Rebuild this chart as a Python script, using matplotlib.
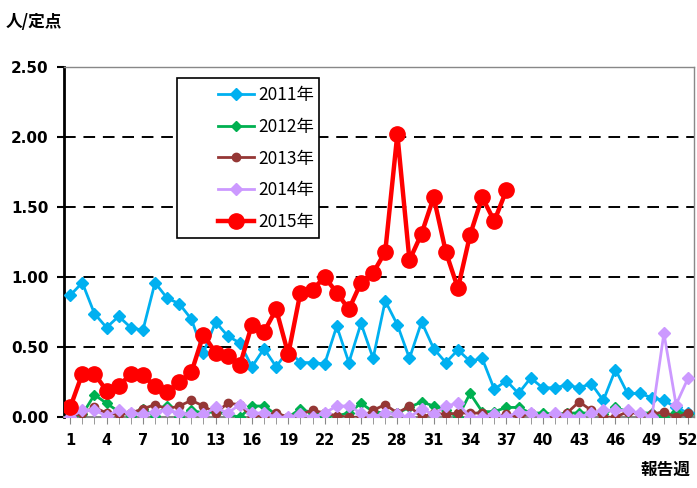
import matplotlib
matplotlib.use("Agg")
import matplotlib.pyplot as plt
from matplotlib.ticker import FixedLocator
from matplotlib.patches import Rectangle

plt.rcParams['font.family'] = ['Noto Sans CJK JP', 'DejaVu Sans']

weeks = list(range(1, 53))

y2011 = [0.87, 0.96, 0.74, 0.64, 0.72, 0.64, 0.62, 0.96, 0.85, 0.81,
         0.70, 0.46, 0.68, 0.58, 0.53, 0.36, 0.49, 0.36, 0.48, 0.39,
         0.39, 0.38, 0.65, 0.39, 0.67, 0.42, 0.83, 0.66, 0.42, 0.68,
         0.49, 0.39, 0.48, 0.40, 0.42, 0.20, 0.26, 0.17, 0.28, 0.21,
         0.21, 0.23, 0.21, 0.24, 0.12, 0.34, 0.17, 0.17, 0.14, 0.12,
         0.07, 0.03]
y2012 = [0.00, 0.02, 0.16, 0.10, 0.04, 0.01, 0.06, 0.01, 0.08, 0.00,
         0.05, 0.03, 0.04, 0.02, 0.00, 0.08, 0.08, 0.02, 0.00, 0.06,
         0.03, 0.00, 0.01, 0.03, 0.10, 0.04, 0.03, 0.03, 0.07, 0.11,
         0.08, 0.05, 0.00, 0.17, 0.04, 0.04, 0.07, 0.07, 0.03, 0.03,
         0.02, 0.03, 0.03, 0.03, 0.02, 0.07, 0.04, 0.03, 0.03, 0.00,
         0.04, 0.02]
y2013 = [0.00, 0.03, 0.07, 0.03, 0.02, 0.03, 0.06, 0.09, 0.06, 0.08,
         0.12, 0.08, 0.03, 0.10, 0.09, 0.00, 0.01, 0.03, 0.00, 0.02,
         0.05, 0.03, 0.01, 0.00, 0.00, 0.05, 0.09, 0.03, 0.08, 0.00,
         0.03, 0.02, 0.03, 0.03, 0.03, 0.00, 0.02, 0.00, 0.03, 0.00,
         0.00, 0.03, 0.11, 0.05, 0.00, 0.00, 0.04, 0.02, 0.02, 0.04,
         0.00, 0.03]
y2014 = [0.00, 0.05, 0.05, 0.01, 0.05, 0.03, 0.02, 0.04, 0.05, 0.03,
         0.02, 0.02, 0.07, 0.03, 0.09, 0.03, 0.03, 0.00, 0.00, 0.02,
         0.00, 0.03, 0.08, 0.08, 0.03, 0.00, 0.03, 0.02, 0.00, 0.06,
         0.02, 0.08, 0.10, 0.00, 0.00, 0.02, 0.00, 0.04, 0.03, 0.00,
         0.03, 0.01, 0.00, 0.03, 0.05, 0.05, 0.05, 0.03, 0.00, 0.60,
         0.09, 0.28]
y2015 = [0.07, 0.31, 0.31, 0.19, 0.22, 0.31, 0.30, 0.22, 0.18, 0.25,
         0.32, 0.59, 0.46, 0.44, 0.37, 0.66, 0.61, 0.77, 0.45, 0.89,
         0.91, 1.00, 0.89, 0.77, 0.96, 1.03, 1.18, 2.02, 1.12, 1.31,
         1.57, 1.18, 0.92, 1.30, 1.57, 1.40, 1.62]

xtick_vals = list(range(1, 53, 3))
ytick_vals = [0.0, 0.5, 1.0, 1.5, 2.0, 2.5]
ytick_labels = ['0.00', '0.50', '1.00', '1.50', '2.00', '2.50']

fig = plt.figure(figsize=(6.97, 4.88), dpi=100)
ax = fig.add_axes([0.092, 0.145, 0.904, 0.718])

ax.plot(weeks, y2011, color='#00B0F0', lw=2.0, marker='D', ms=6, label='2011年', zorder=3)
ax.plot(weeks, y2012, color='#00B050', lw=2.0, marker='D', ms=5, label='2012年', zorder=3)
ax.plot(weeks, y2013, color='#953735', lw=2.0, marker='o', ms=6, label='2013年', zorder=3)
ax.plot(weeks, y2014, color='#CC99FF', lw=2.0, marker='D', ms=6, label='2014年', zorder=3)
ax.plot(weeks[:len(y2015)], y2015, color='#FF0000', lw=3.2, marker='o', ms=11, label='2015年', zorder=4)

ax.set_xlim(0.5, 52.5)
ax.set_ylim(0, 2.5)
ax.xaxis.set_major_locator(FixedLocator(xtick_vals))
ax.xaxis.set_minor_locator(FixedLocator(weeks))
ax.set_xticklabels([str(v) for v in xtick_vals], fontsize=10.5, fontweight='bold', family=['DejaVu Sans'])
ax.set_yticks(ytick_vals)
ax.set_yticklabels(ytick_labels, fontsize=11, fontweight='bold', family=['DejaVu Sans'])
ax.tick_params(axis='x', which='both', direction='out', length=5, color='#888888', pad=6)
ax.tick_params(axis='y', direction='out', length=5, width=1.5, color='black', pad=6)

for y in ytick_vals[1:]:
    ax.axhline(y, color='black', lw=1.4, ls=(0, (6, 4)), zorder=1)

ax.spines['left'].set_linewidth(2.0)
ax.spines['left'].set_color('black')
ax.spines['bottom'].set_color('#888888')
ax.spines['bottom'].set_linewidth(1.5)
ax.spines['right'].set_color('#888888')
ax.spines['right'].set_linewidth(1.0)
ax.spines['top'].set_color('#888888')
ax.spines['top'].set_linewidth(1.0)

# legend box (drawn separately to mimic wide left padding)
box = Rectangle((0.179, 0.511), 0.226, 0.458, transform=ax.transAxes,
                facecolor='white', edgecolor='black', lw=1.2, zorder=5)
ax.add_patch(box)
leg = ax.legend(loc='upper left', bbox_to_anchor=(0.236, 0.96), fontsize=12.5,
                frameon=False, handlelength=2.1, handletextpad=0.2,
                labelspacing=0.79, borderpad=0.3, borderaxespad=0)
leg.set_zorder(6)

fig.text(0.008, 0.955, '人/定点', fontsize=12, fontweight='bold', ha='left', va='center')
fig.text(0.99, 0.018, '報告週', fontsize=12, fontweight='bold', ha='right', va='bottom')

fig.savefig('out.png', dpi=100)
